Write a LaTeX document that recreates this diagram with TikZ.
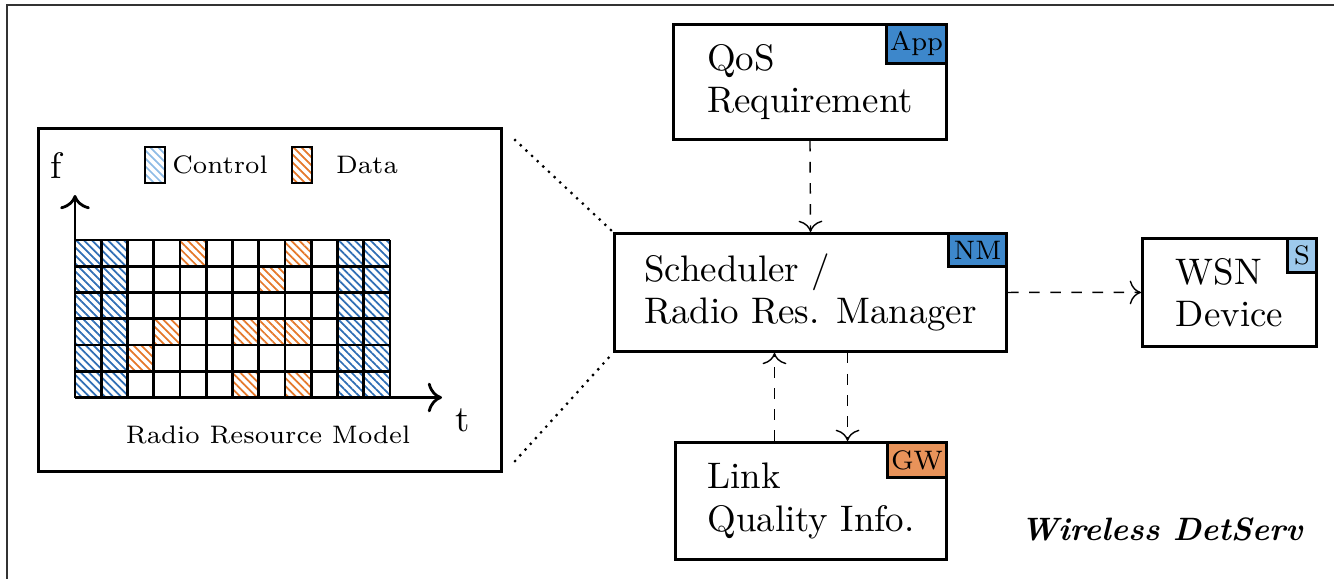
\documentclass[tikz,border=0pt]{standalone}
\usepackage{fontspec}
\usetikzlibrary{patterns.meta,arrows.meta}
\definecolor{ctrlblue}{HTML}{2F6EB5}
\definecolor{ctrllight}{HTML}{8FBCE6}
\definecolor{dataorange}{HTML}{E5782A}
\definecolor{tagblue}{HTML}{3D87CB}
\definecolor{taglight}{HTML}{9DC9EC}
\definecolor{tagorange}{HTML}{E8935A}

\begin{document}
\begin{tikzpicture}[x=0.01cm,y=-0.01cm,
	blk/.style={draw,thick,anchor=north west,align=left,inner sep=0pt,font=\fontsize{10.5}{12}\selectfont},
	tag/.style={draw,thick,anchor=north east,inner sep=0pt,minimum height=0.35cm,font=\fontsize{7.6}{8}\selectfont},
	flow/.style={dashed,-{To[scale=1.3]}},
	hatch/.style={pattern={Lines[angle=-45,distance=1.6pt,line width=0.5pt]}},
	ctrl/.style={hatch,pattern color=ctrlblue},
	data/.style={hatch,pattern color=dataorange},
	zoomline/.style={line width=0.9pt,line cap=round,dash pattern=on 0pt off 2.2pt},
	small/.style={font=\fontsize{7.2}{8}\selectfont}]
			\useasboundingbox (0,0) rectangle (1334,578);
			\draw[thick,black!80] (7,5) rectangle (1350,600);
			% radio resource model
			\node[draw,thick,anchor=north west,minimum width=4.63cm,minimum height=3.43cm,inner sep=0pt] (rrm) at (37,127) {};
			\foreach \c in {1,2,11,12}
				\foreach \r in {1,...,6}
					\fill[ctrl] (75+\c*26.25-26.25,240+\r*26.25-26.25) rectangle ++(26.25,26.25);
			\foreach \c/\r in {5/1,9/1,8/2,4/4,7/4,8/4,9/4,3/5,7/6,9/6}
				\fill[data] (75+\c*26.25-26.25,240+\r*26.25-26.25) rectangle ++(26.25,26.25);
			\foreach \i in {0,...,12}
				\draw[thick] (75+\i*26.25,240) -- (75+\i*26.25,397.5);
			\foreach \j in {0,...,6}
				\draw[thick] (75,240+\j*26.25) -- (390,240+\j*26.25);
			\coordinate (o) at (75,397.5);
			\coordinate (ftip) at (75,195);
			\coordinate (ttip) at (442,397.5);
			\draw[thick,-{To[scale=1.2]}] (o) -- (ftip);
			\draw[thick,-{To[scale=1.2]}] (o) -- (ttip);
			\node[font=\fontsize{10.5}{12}\selectfont] (flab) at (56,165) {f};
			\node[font=\fontsize{10.5}{12}\selectfont] (tlab) at (463,420) {t};
			\node[draw,thick,ctrl,pattern color=ctrllight,minimum width=0.2cm,minimum height=0.36cm,inner sep=0pt] (ctrlkey) at (155,165) {};
			\node[small] (ctrltext) at (220,165) {Control};
			\node[draw,thick,data,minimum width=0.2cm,minimum height=0.36cm,inner sep=0pt] (datakey) at (302,165) {};
			\node[small] (datatext) at (367,165) {Data};
			\node[small] (rrmtext) at (268,435) {Radio Resource Model};
			% blocks
			\node[blk,minimum width=3.92cm,minimum height=1.18cm] (sched) at (613,232) {Scheduler /\\Radio Res. Manager};
			\node[blk,minimum width=2.73cm,minimum height=1.15cm] (qos) at (672,23) {QoS\\Requirement};
			\node[blk,minimum width=1.74cm,minimum height=1.08cm] (wsn) at (1141,237) {WSN\\Device};
			\node[blk,minimum width=2.71cm,minimum height=1.17cm] (link) at (674,441) {Link\\Quality Info.};
			\node[tag,fill=tagblue,minimum width=0.6cm,minimum height=0.39cm] (app) at (qos.north east) {App};
			\node[tag,fill=tagblue,minimum width=0.58cm,minimum height=0.33cm] (nm) at (sched.north east) {NM};
			\node[tag,fill=taglight,minimum width=0.29cm,minimum height=0.34cm] (s) at (wsn.north east) {S};
			\node[tag,fill=tagorange,minimum width=0.59cm] (gw) at (link.north east) {GW};
			% connectors
			\draw[flow] (qos.south) -- (sched.north);
			\draw[flow] (sched.east) -- (wsn.west);
			\draw[flow] ([xshift=-0.365cm]link.north) -- ([xshift=-0.365cm]link.north |- sched.south);
			\draw[flow] ([xshift=0.37cm]sched.south) -- ([xshift=0.37cm]sched.south |- link.north);
			\draw[zoomline] ([xshift=0.12cm,yshift=-0.13cm]rrm.north east) -- (sched.north west);
			\draw[zoomline] ([xshift=0.12cm,yshift=0.12cm]rrm.south east) -- (sched.south west);
			\node[anchor=base east,font=\fontsize{9.2}{11}\selectfont\bfseries\itshape] (title) at (1315,540) {Wireless DetServ};
\end{tikzpicture}
\end{document}
